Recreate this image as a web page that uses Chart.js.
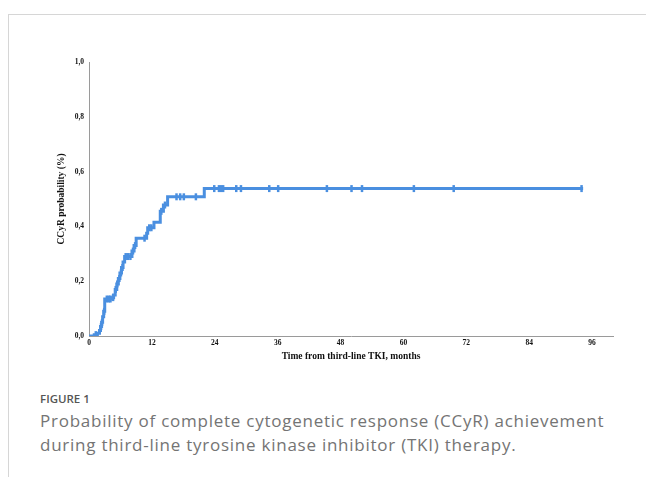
<!DOCTYPE html>
<html>
<head>
<meta charset="utf-8">
<script src="https://cdn.jsdelivr.net/npm/chart.js@4"></script>
<style>
  html, body { margin:0; padding:0; background:#fff; width:646px; height:477px; overflow:hidden; }
  .frame { position:absolute; left:8px; top:14px; width:700px; height:500px; border-top:1px solid #d6d6d6; border-left:1px solid #d6d6d6; }
  .chartbox { position:absolute; left:0; top:0; width:646px; height:380px; }
  .fig { position:absolute; left:40px; top:391px; font:600 11.5px "Open Sans", sans-serif; color:#555; }
  .cap { position:absolute; left:40px; top:409px; width:600px; font:17px/23.5px "Open Sans", sans-serif; letter-spacing:0.75px; color:#747474; }
</style>
</head>
<body>
<div class="frame"></div>
<div class="chartbox"><canvas id="km"></canvas></div>
<div class="fig">FIGURE 1</div>
<div class="cap">Probability of complete cytogenetic response (CCyR) achievement during third-line tyrosine kinase inhibitor (TKI) therapy.</div>
<script>
// ---- data ----
const eventT = [0, 1.0, 1.6, 2.0, 2.2, 2.4, 2.6, 2.8, 3.0, 4.4, 4.7, 5.0, 5.3, 5.6, 5.9, 6.2, 6.5, 6.8, 8.2, 8.6, 9.0, 11.0, 11.2, 12.4, 13.6, 14.2, 15.0, 22.0, 94.3];
const eventP = [0, 0.005, 0.01, 0.02, 0.035, 0.05, 0.07, 0.09, 0.135, 0.14, 0.15, 0.17, 0.19, 0.21, 0.23, 0.25, 0.27, 0.29, 0.31, 0.33, 0.357, 0.375, 0.395, 0.415, 0.455, 0.478, 0.508, 0.538, 0.538];
const censorT = [1.3, 2.3, 2.5, 2.9, 3.4, 3.8, 4.1, 4.6, 5.1, 5.4, 5.8, 6.1, 6.4, 7.0, 7.4, 7.9, 8.4, 8.8, 10.6, 11.5, 11.9, 13.8, 14.5,
  16.7, 17.4, 18.1, 20.4, 23.9, 24.8, 25.2, 25.6, 28.1, 29.0, 34.4, 36.1, 45.4, 50.1, 52.1, 62.0, 69.6, 94.0];
const xTicks = [0, 12, 24, 36, 48, 60, 72, 84, 96];
const yTicks = [0, 0.2, 0.4, 0.6, 0.8, 1.0];

const BLUE = '#4a8fe0';
const AXIS = '#9a9a9a';
const TICKFONT = { family: '"Liberation Serif", "DejaVu Serif", serif', size: 7.5, weight: 'bold' };
const TITLEFONT = { family: '"Liberation Serif", serif', size: 9.5, weight: 'bold' };

function probAt(t) {
  let p = 0;
  for (let i = 0; i < eventT.length; i++) if (eventT[i] <= t) p = eventP[i];
  return p;
}

new Chart(document.getElementById('km'), {
  type: 'line',
  data: { datasets: [
    { data: eventT.map((t, i) => ({ x: t, y: eventP[i] })), stepped: true, borderColor: BLUE, borderWidth: 3,
      pointRadius: 0, fill: false },
    { data: censorT.map(t => ({ x: t, y: probAt(t) })), showLine: false, pointStyle: 'line', rotation: 90,
      pointRadius: 3.5, borderColor: BLUE, backgroundColor: BLUE, pointBorderWidth: 2.5 }
  ]},
  options: {
    responsive: true, maintainAspectRatio: false, animation: false,
    layout: { padding: { left: 56, right: 33, top: 62, bottom: 14 } },
    plugins: { legend: { display: false }, tooltip: { enabled: false } },
    scales: {
      x: { type: 'linear', min: 0, max: 100,
        afterBuildTicks: s => { s.ticks = xTicks.map(v => ({ value: v })); },
        afterFit: s => { s.height = 30; },
        grid: { display: false, drawTicks: false }, border: { display: true, color: AXIS, width: 1 },
        ticks: { color: '#111', font: TICKFONT, padding: 3, maxRotation: 0 },
        title: { display: true, text: 'Time from third-line TKI, months', color: '#111', font: TITLEFONT, padding: { top: 4 } } },
      y: { type: 'linear', min: 0, max: 1,
        afterBuildTicks: s => { s.ticks = yTicks.map(v => ({ value: v })); },
        afterFit: s => { s.width = 33; },
        grid: { display: false, drawTicks: false }, border: { display: true, color: AXIS, width: 1 },
        ticks: { color: '#111', font: TICKFONT, padding: 5, callback: v => v.toFixed(1).replace('.', ',') },
        title: { display: true, text: 'CCyR probability (%)', color: '#111', font: TITLEFONT, padding: 0 } }
    }
  }
});
</script>
</body>
</html>
